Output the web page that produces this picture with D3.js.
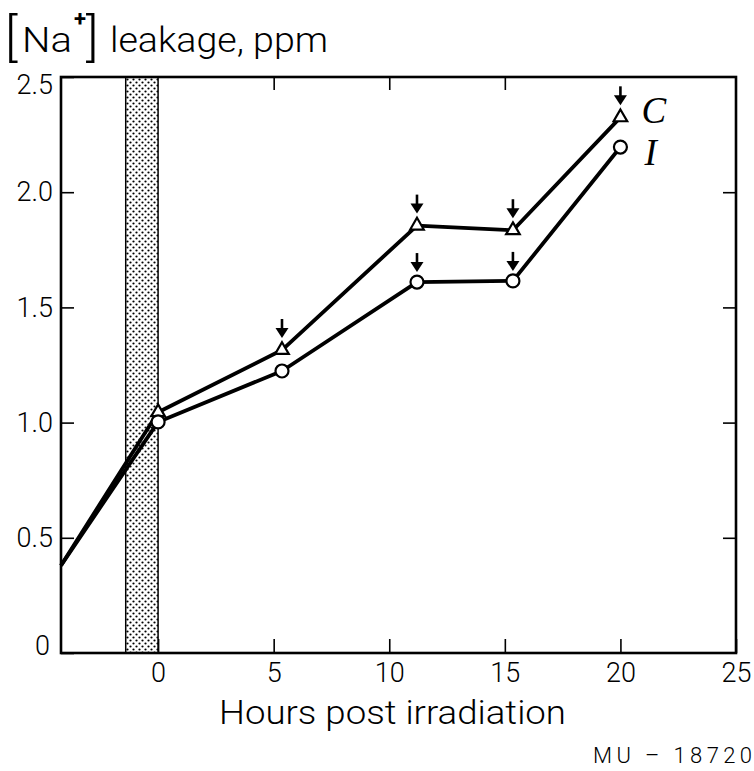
<!DOCTYPE html>
<html>
<head>
<meta charset="utf-8">
<script src="https://cdn.jsdelivr.net/npm/d3@7"></script>
<style>
  html, body { margin: 0; padding: 0; background: #fff; }
  svg { display: block; }
  text { font-family: Roboto, "Open Sans", sans-serif; font-weight: 300; fill: #000; }
  text.serif { font-family: "Liberation Serif", "DejaVu Serif", serif; font-style: italic; font-weight: 400; }
</style>
</head>
<body>
<svg id="chart" width="754" height="771"></svg>
<script>
// Sodium leakage after irradiation, two series (C and I)
const hours   = [0, 5.36, 11.2, 15.35, 20];
const seriesC = [1.045, 1.315, 1.855, 1.835, 2.325];
const seriesI = [1.003, 1.224, 1.61, 1.615, 2.196];
// both curves enter from the left edge of the plot at the same level
const startHour = -4.2;
const startValue = 0.38;
// arrows marking sampling points
const arrowHoursC = [5.36, 11.2, 15.35, 20];
const arrowHoursI = [11.2, 15.35];
// irradiation period (shaded band)
const irradiation = [-1.4, 0];
const xTicks = [0, 5, 10, 15, 20, 25];
const yTicks = [0, 0.5, 1.0, 1.5, 2.0, 2.5];
const yTickLabels = ["0", "0.5", "1.0", "1.5", "2.0", "2.5"];

const svg = d3.select("#chart");
const L = 61, R = 736, T = 77, B = 653;
const x = d3.scaleLinear().domain([startHour, 25]).range([L, R]);
const y = d3.scaleLinear().domain([0, 2.5]).range([B, T]);

// stipple pattern for the irradiation band
const defs = svg.append("defs");
const pat = defs.append("pattern").attr("id", "stipple")
  .attr("patternUnits", "userSpaceOnUse").attr("width", 6).attr("height", 6);
pat.append("circle").attr("cx", 1.5).attr("cy", 1.5).attr("r", 1.1).attr("fill", "#000");
pat.append("circle").attr("cx", 4.5).attr("cy", 4.5).attr("r", 1.1).attr("fill", "#000");

svg.append("rect")
  .attr("x", x(irradiation[0])).attr("y", T)
  .attr("width", x(irradiation[1]) - x(irradiation[0])).attr("height", B - T)
  .attr("fill", "url(#stipple)");
irradiation.forEach(h => {
  svg.append("line").attr("x1", x(h)).attr("x2", x(h)).attr("y1", T).attr("y2", B)
    .attr("stroke", "#000").attr("stroke-width", 1.5);
});

// axes: ticks point inward
const tickStyle = g => {
  g.select(".domain").remove();
  g.selectAll(".tick line").attr("stroke", "#000").attr("stroke-width", 1.6);
  g.selectAll(".tick text").attr("font-size", 27).attr("fill", "#000");
};
svg.append("g").attr("transform", `translate(${L},0)`)
  .call(d3.axisLeft(y).tickValues(yTicks).tickSize(-13).tickPadding(8)
    .tickFormat((d, i) => yTickLabels[i]))
  .call(tickStyle)
  .call(g => {
    g.selectAll(".tick").filter(d => d === 2.5).select("text").attr("dy", "0.62em");
    g.selectAll(".tick").filter(d => d === 0).select("text").attr("dy", "0.05em").attr("x", -11);
  });
svg.append("g").attr("transform", `translate(${R},0)`)
  .call(d3.axisRight(y).tickValues([0.5, 1.0, 1.5, 2.0]).tickSize(-13).tickFormat(""))
  .call(tickStyle);
svg.append("g").attr("transform", `translate(0,${B})`)
  .call(d3.axisBottom(x).tickValues(xTicks).tickSize(-14).tickPadding(8).tickFormat(d3.format("d")))
  .call(tickStyle)
  .call(g => g.selectAll(".tick text").attr("dy", "0.78em"));
svg.append("g").attr("transform", `translate(0,${T})`)
  .call(d3.axisTop(x).tickValues([5, 10, 15]).tickSize(-13).tickFormat(""))
  .call(tickStyle);

// frame
svg.append("rect").attr("x", L).attr("y", T).attr("width", R - L).attr("height", B - T)
  .attr("fill", "none").attr("stroke", "#000").attr("stroke-width", 2.6);

// data lines
const line = d3.line().x(d => x(d[0])).y(d => y(d[1]));
const ptsC = [[startHour, startValue]].concat(hours.map((h, i) => [h, seriesC[i]]));
const ptsI = [[startHour, startValue]].concat(hours.map((h, i) => [h, seriesI[i]]));
[ptsC, ptsI].forEach(p => {
  svg.append("path").datum(p).attr("d", line)
    .attr("fill", "none").attr("stroke", "#000").attr("stroke-width", 3.8)
    .attr("stroke-linejoin", "round");
});

// markers
const tri = d3.symbol().type(d3.symbolTriangle).size(80);
svg.selectAll(".mc").data(hours.map((h, i) => [h, seriesC[i]])).join("path")
  .attr("d", tri).attr("transform", d => `translate(${x(d[0])},${y(d[1])})`)
  .attr("fill", "#fff").attr("stroke", "#000").attr("stroke-width", 2.2);
svg.selectAll(".mi").data(hours.map((h, i) => [h, seriesI[i]])).join("circle")
  .attr("cx", d => x(d[0])).attr("cy", d => y(d[1])).attr("r", 6.5)
  .attr("fill", "#fff").attr("stroke", "#000").attr("stroke-width", 2.2);

// arrows above sampled points
function arrow(px, tipY) {
  svg.append("line").attr("x1", px).attr("x2", px).attr("y1", tipY - 19).attr("y2", tipY - 8)
    .attr("stroke", "#000").attr("stroke-width", 2.6);
  svg.append("path")
    .attr("d", `M${px - 6.5},${tipY - 10} L${px + 6.5},${tipY - 10} L${px},${tipY} Z`)
    .attr("fill", "#000");
}
arrowHoursC.forEach(h => {
  const i = hours.indexOf(h);
  arrow(x(h), y(seriesC[i]) - 12);
});
arrowHoursI.forEach(h => {
  const i = hours.indexOf(h);
  arrow(x(h), y(seriesI[i]) - 10);
});

// series labels
const last = hours.length - 1;
svg.append("text").attr("class", "serif").attr("x", x(hours[last]) + 21).attr("y", y(seriesC[last]) + 6)
  .attr("font-size", 37).text("C");
svg.append("text").attr("class", "serif").attr("x", x(hours[last]) + 24).attr("y", y(seriesI[last]) + 18)
  .attr("font-size", 37).text("I");

// y-axis title
svg.append("text").attr("x", 5).attr("y", 55).attr("font-size", 52).text("[");
svg.append("text").attr("x", 22).attr("y", 52).attr("font-size", 35)
  .attr("textLength", 50).attr("lengthAdjust", "spacingAndGlyphs").text("Na");
svg.append("text").attr("x", 74).attr("y", 26).attr("font-size", 22)
  .style("font-weight", 700).text("+");
svg.append("text").attr("x", 86).attr("y", 55).attr("font-size", 52).text("]");
svg.append("text").attr("x", 110).attr("y", 52).attr("font-size", 35)
  .attr("textLength", 218).attr("lengthAdjust", "spacingAndGlyphs").text("leakage, ppm");

// x-axis title
svg.append("text").attr("x", 219).attr("y", 724).attr("font-size", 34)
  .attr("textLength", 347).attr("lengthAdjust", "spacingAndGlyphs").text("Hours post irradiation");

// figure code
svg.append("text").attr("x", 593).attr("y", 763).attr("font-size", 22)
  .attr("textLength", 159).attr("lengthAdjust", "spacing").text("MU – 18720");
</script>
</body>
</html>
